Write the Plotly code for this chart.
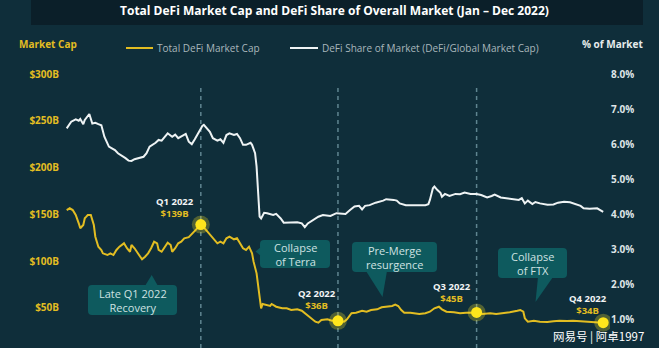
import pandas as pd
import plotly.graph_objects as go

# ---------------------------------------------------------------- data
# Days are counted from 1 Jan 2022.
cap_days = [
    0, 2, 4, 6, 8, 9, 11, 12, 13, 14,
    16, 18, 19, 21, 23, 24, 27, 29, 31, 33,
    35, 38, 40, 42, 43, 45, 48, 50, 52, 54,
    56, 58, 60, 61, 63, 65, 67, 69, 70, 72,
    74, 76, 78, 81, 83, 85, 87, 88, 89, 91,
    93, 95, 97, 100, 102, 104, 106, 108, 111, 113,
    115, 117, 119, 121, 123, 124, 126, 127, 128, 129,
    130, 133, 135, 136, 139, 143, 146, 149, 153, 156,
    158, 161, 165, 167, 169, 173, 176, 178, 180, 184,
    186, 189, 192, 196, 199, 202, 206, 209, 212, 216,
    218, 220, 222, 224, 228, 231, 234, 238, 241, 244,
    247, 249, 252, 257, 261, 265, 272, 276, 281, 285,
    290, 294, 299, 301, 303, 304, 306, 310, 314, 319,
    323, 327, 332, 336, 341, 345, 350, 353, 356,
]
# Total DeFi market cap, $B
cap_values = [
    154.5, 156.4, 154.5, 149.2, 140.3, 135.0, 138.5, 145.7, 147.4, 149.2,
    149.2, 138.5, 126.0, 115.3, 111.8, 108.2, 106.4, 108.2, 106.4, 111.8,
    115.3, 118.9, 113.6, 109.9, 117.1, 113.6, 106.4, 101.8, 104.6, 108.2,
    113.6, 120.6, 118.9, 111.8, 109.9, 115.3, 119.6, 117.1, 109.9, 113.6,
    118.9, 120.6, 124.3, 125.5, 129.0, 132.0, 135.0, 137.5, 139.0, 136.0,
    132.0, 128.0, 124.0, 118.9, 120.6, 118.9, 124.3, 126.0, 123.2, 124.3,
    118.9, 113.6, 111.8, 115.3, 108.2, 99.3, 86.8, 72.5, 61.8, 49.4,
    54.0, 52.9, 51.9, 54.0, 51.1, 49.4, 49.4, 47.6, 48.3, 46.8,
    44.1, 40.4, 35.1, 34.0, 36.9, 37.6, 36.1, 36.9, 36.0, 35.1,
    37.6, 44.1, 44.7, 46.8, 45.8, 47.6, 48.3, 50.5, 51.1, 51.9,
    53.3, 51.9, 47.6, 44.7, 44.7, 44.1, 43.3, 44.1, 45.8, 49.4,
    51.1, 48.3, 45.8, 45.1, 44.1, 44.7, 45.0, 43.3, 44.1, 43.3,
    44.1, 45.1, 46.8, 47.6, 45.8, 38.7, 35.1, 36.1, 35.1, 34.8,
    35.5, 36.1, 35.8, 36.1, 35.5, 34.8, 34.4, 34.2, 34.0,
]

share_days = [
    0, 3, 6, 8, 9, 11, 12, 14, 15, 17,
    19, 21, 23, 25, 28, 30, 32, 34, 36, 39,
    41, 43, 45, 49, 51, 53, 55, 59, 61, 63,
    65, 67, 70, 72, 74, 76, 79, 81, 83, 85,
    87, 90, 91, 93, 95, 97, 100, 102, 104, 106,
    108, 111, 113, 115, 117, 119, 122, 123, 125, 126,
    127, 128, 129, 131, 133, 135, 137, 139, 142, 144,
    148, 153, 156, 158, 160, 164, 167, 170, 175, 179,
    181, 185, 188, 191, 194, 196, 198, 201, 205, 208,
    210, 212, 215, 217, 219, 221, 225, 228, 231, 234,
    238, 240, 241, 243, 244, 246, 248, 249, 251, 254,
    258, 261, 264, 268, 272, 275, 279, 282, 284, 288,
    292, 296, 300, 302, 304, 306, 309, 311, 314, 319,
    323, 326, 330, 334, 337, 341, 343, 347, 352, 354, 356,
]
# DeFi share of global crypto market cap, %
share_values = [
    6.45, 6.64, 6.71, 6.67, 6.72, 6.57, 6.69, 6.83, 6.86, 6.59,
    6.61, 6.57, 6.54, 6.21, 5.93, 5.88, 5.83, 5.74, 5.69, 5.60,
    5.53, 5.52, 5.57, 5.62, 5.64, 5.74, 5.93, 6.04, 6.12, 6.10,
    6.20, 6.31, 6.21, 6.27, 6.17, 6.21, 6.29, 6.07, 6.00, 6.14,
    6.31, 6.52, 6.55, 6.45, 6.35, 6.17, 6.10, 6.14, 6.04, 6.26,
    6.31, 6.26, 6.29, 6.17, 5.98, 5.98, 6.04, 5.98, 5.74, 5.36,
    4.55, 3.93, 3.88, 4.04, 4.03, 4.00, 3.98, 4.01, 3.88, 3.76,
    3.76, 3.77, 3.74, 3.63, 3.74, 3.84, 3.93, 3.98, 3.95, 4.03,
    4.03, 4.01, 4.12, 4.22, 4.24, 4.14, 4.24, 4.26, 4.33, 4.36,
    4.39, 4.43, 4.43, 4.41, 4.39, 4.31, 4.26, 4.26, 4.24, 4.24,
    4.26, 4.29, 4.41, 4.74, 4.79, 4.69, 4.61, 4.50, 4.58, 4.52,
    4.58, 4.57, 4.62, 4.58, 4.58, 4.55, 4.48, 4.52, 4.56, 4.48,
    4.46, 4.43, 4.41, 4.46, 4.31, 4.39, 4.29, 4.35, 4.31, 4.27,
    4.28, 4.33, 4.36, 4.34, 4.29, 4.24, 4.17, 4.16, 4.17, 4.12, 4.07,
]

quarter_names = ["Q1 2022", "Q2 2022", "Q3 2022", "Q4 2022"]
quarter_days = [89, 180, 272, 356]
quarter_caps = [139, 36, 45, 34]

cap_ticks = [50, 100, 150, 200, 250, 300]
cap_tick_text = ["$50B", "$100B", "$150B", "$200B", "$250B", "$300B"]
share_ticks = [1, 2, 3, 4, 5, 6, 7, 8]
share_tick_text = ["1.0%", "2.0%", "3.0%", "4.0%", "5.0%", "6.0%", "7.0%", "8.0%"]

events = ["Late Q1 2022<br>Recovery", "Collapse<br>of Terra",
          "Pre-Merge<br>resurgence", "Collapse<br>of FTX"]

# ---------------------------------------------------------------- styling
BG = "#0f2e3a"
BAR = "#0b1f29"
BOX = "#0e5a5e"
GOLD = "#e2bd22"
MARK = "#ffe61c"
WHITE = "#eef3f4"
FONT = "Open Sans"

W, H = 659, 348
PL, PR, PT, PB = 60, 610, 73, 348          # plot area in page pixels


def fx(px):
    return (px - PL) / (PR - PL)


def fy(py):
    return (PB - py) / (PB - PT)


START = pd.Timestamp("2022-01-01")


def to_dates(days):
    return [START + pd.Timedelta(days=d) for d in days]


fig = go.Figure()

fig.add_trace(go.Scatter(
    x=to_dates(share_days), y=share_values, yaxis="y2", mode="lines",
    line=dict(color=WHITE, width=2), hoverinfo="skip", showlegend=False))

fig.add_trace(go.Scatter(
    x=to_dates(cap_days), y=cap_values, mode="lines",
    line=dict(color=GOLD, width=2), hoverinfo="skip", showlegend=False))

# quarter markers with a soft halo
fig.add_trace(go.Scatter(
    x=to_dates(quarter_days), y=quarter_caps, mode="markers",
    marker=dict(size=18, color="rgba(255,230,40,0.28)", line=dict(width=0)),
    hoverinfo="skip", showlegend=False))
fig.add_trace(go.Scatter(
    x=to_dates(quarter_days), y=quarter_caps, mode="markers",
    marker=dict(size=11, color=MARK, line=dict(width=0)),
    hoverinfo="skip", showlegend=False))

shapes = []
annotations = []

# dashed quarter boundaries
for d in quarter_days[:3]:
    shapes.append(dict(type="line", xref="x", yref="paper",
                       x0=START + pd.Timedelta(days=d), x1=START + pd.Timedelta(days=d),
                       y0=0, y1=fy(86),
                       line=dict(color="#5f8590", width=1.5, dash="4px,4px"),
                       layer="below"))

# title bar
shapes.append(dict(type="rect", xref="paper", yref="paper",
                   x0=fx(31), x1=fx(643), y0=fy(25), y1=fy(0),
                   fillcolor=BAR, line=dict(width=0), layer="below"))
annotations.append(dict(
    xref="paper", yref="paper", x=fx(334), y=fy(10), xanchor="center", yanchor="middle",
    text="Total DeFi Market Cap and DeFi Share of Overall Market (Jan – Dec 2022)",
    showarrow=False, font=dict(family=FONT, size=12, color="#ffffff", weight=700)))

# axis captions
annotations.append(dict(xref="paper", yref="paper", x=fx(17), y=fy(44),
                        xanchor="left", yanchor="middle", text="Market Cap",
                        showarrow=False,
                        font=dict(family=FONT, size=10, color=GOLD, weight=700)))
annotations.append(dict(xref="paper", yref="paper", x=fx(645), y=fy(44),
                        xanchor="right", yanchor="middle", text="% of Market",
                        showarrow=False,
                        font=dict(family=FONT, size=10, color="#e6ebec", weight=700)))

# legend
legend_items = [("Total DeFi Market Cap", GOLD, 126, 153),
                ("DeFi Share of Market (DeFi/Global Market Cap)", WHITE, 290, 318)]
for label, col, x0, x1 in legend_items:
    shapes.append(dict(type="line", xref="paper", yref="paper",
                       x0=fx(x0), x1=fx(x1), y0=fy(48), y1=fy(48),
                       line=dict(color=col, width=2)))
    annotations.append(dict(xref="paper", yref="paper", x=fx(x1 + 2), y=fy(48),
                            xanchor="left", yanchor="middle", text=label,
                            showarrow=False,
                            font=dict(family=FONT, size=10, color="#a9b7bc")))

# quarter labels
q_label_pos = [(175, 207), (317, 299), (452, 292), (588, 304)]
for name, cap, (lx, ly) in zip(quarter_names, quarter_caps, q_label_pos):
    annotations.append(dict(
        xref="paper", yref="paper", x=fx(lx), y=fy(ly),
        xanchor="center", yanchor="middle", showarrow=False,
        text=f"{name}<br><span style='color:{GOLD}'>${cap}B</span>",
        font=dict(family=FONT, size=9.5, color="#f2f4f5", weight=700)))


# event callouts: rounded box plus a pointer wedge
def rounded_box(x0, y0, x1, y1, r=4):
    p = [("M", x0 + r, y0), ("L", x1 - r, y0), ("Q", x1, y0, x1, y0 + r),
         ("L", x1, y1 - r), ("Q", x1, y1, x1 - r, y1), ("L", x0 + r, y1),
         ("Q", x0, y1, x0, y1 - r), ("L", x0, y0 + r), ("Q", x0, y0, x0 + r, y0)]
    out = []
    for cmd, *c in p:
        pts = " ".join(f"{fx(c[i]):.5f},{fy(c[i + 1]):.5f}" for i in range(0, len(c), 2))
        out.append(f"{cmd} {pts}")
    return " ".join(out) + " Z"


def wedge(points):
    (ax, ay), (bx, by), (cx, cy) = points
    return (f"M {fx(ax):.5f},{fy(ay):.5f} L {fx(bx):.5f},{fy(by):.5f} "
            f"L {fx(cx):.5f},{fy(cy):.5f} Z")


callout_boxes = [(88, 285, 177, 315), (260, 240, 330, 268),
                 (352, 242, 437, 272), (498, 248, 567, 278)]
callout_tips = [[(145, 286), (151.7, 275), (158, 286)],
                [(261, 247), (255.5, 251.5), (261, 256)],
                [(366, 271), (382.5, 297), (387, 271)],
                [(538, 277), (535.5, 302), (553, 277)]]

for text, (x0, y0, x1, y1), tip in zip(events, callout_boxes, callout_tips):
    shapes.append(dict(type="path", xref="paper", yref="paper",
                       path=rounded_box(x0, y0, x1, y1), fillcolor=BOX,
                       line=dict(width=0), layer="above"))
    shapes.append(dict(type="path", xref="paper", yref="paper",
                       path=wedge(tip), fillcolor=BOX, line=dict(width=0), layer="above"))
    annotations.append(dict(xref="paper", yref="paper",
                            x=fx((x0 + x1) / 2), y=fy((y0 + y1) / 2 + 0.5),
                            xanchor="center", yanchor="middle", showarrow=False,
                            text=text,
                            font=dict(family=FONT, size=11, color="#cfe2e2")))

# publisher mark
annotations.append(dict(xref="paper", yref="paper", x=fx(598), y=fy(336),
                        xanchor="center", yanchor="middle", showarrow=False,
                        text="网易号 | 阿卓1997",
                        font=dict(family="Noto Sans CJK SC", size=11.5, color="#ffffff")))

x_lo = START + pd.Timedelta(days=(PL - 66.7) / 1.507)
x_hi = START + pd.Timedelta(days=(PR - 66.7) / 1.507)

fig.update_layout(
    width=W, height=H,
    margin=dict(l=PL, r=W - PR, t=PT, b=H - PB, pad=0),
    paper_bgcolor=BG, plot_bgcolor=BG,
    showlegend=False,
    xaxis=dict(range=[x_lo, x_hi], type="date", visible=False, showgrid=False,
               zeroline=False),
    yaxis=dict(range=[(354.5 - PB) / 0.935, (354.5 - PT) / 0.935],
               tickvals=cap_ticks, ticktext=cap_tick_text,
               tickfont=dict(family=FONT, size=10, color=GOLD, weight=700),
               showgrid=False, zeroline=False, showline=False, ticks=""),
    yaxis2=dict(range=[(354.5 - PB) / 35.06, (354.5 - PT) / 35.06],
                overlaying="y", side="right",
                tickvals=share_ticks, ticktext=share_tick_text,
                tickfont=dict(family=FONT, size=10, color="#dfe5e7", weight=700),
                showgrid=False, zeroline=False, showline=False, ticks=""),
    shapes=shapes,
    annotations=annotations,
)

fig.write_html("out.html")
